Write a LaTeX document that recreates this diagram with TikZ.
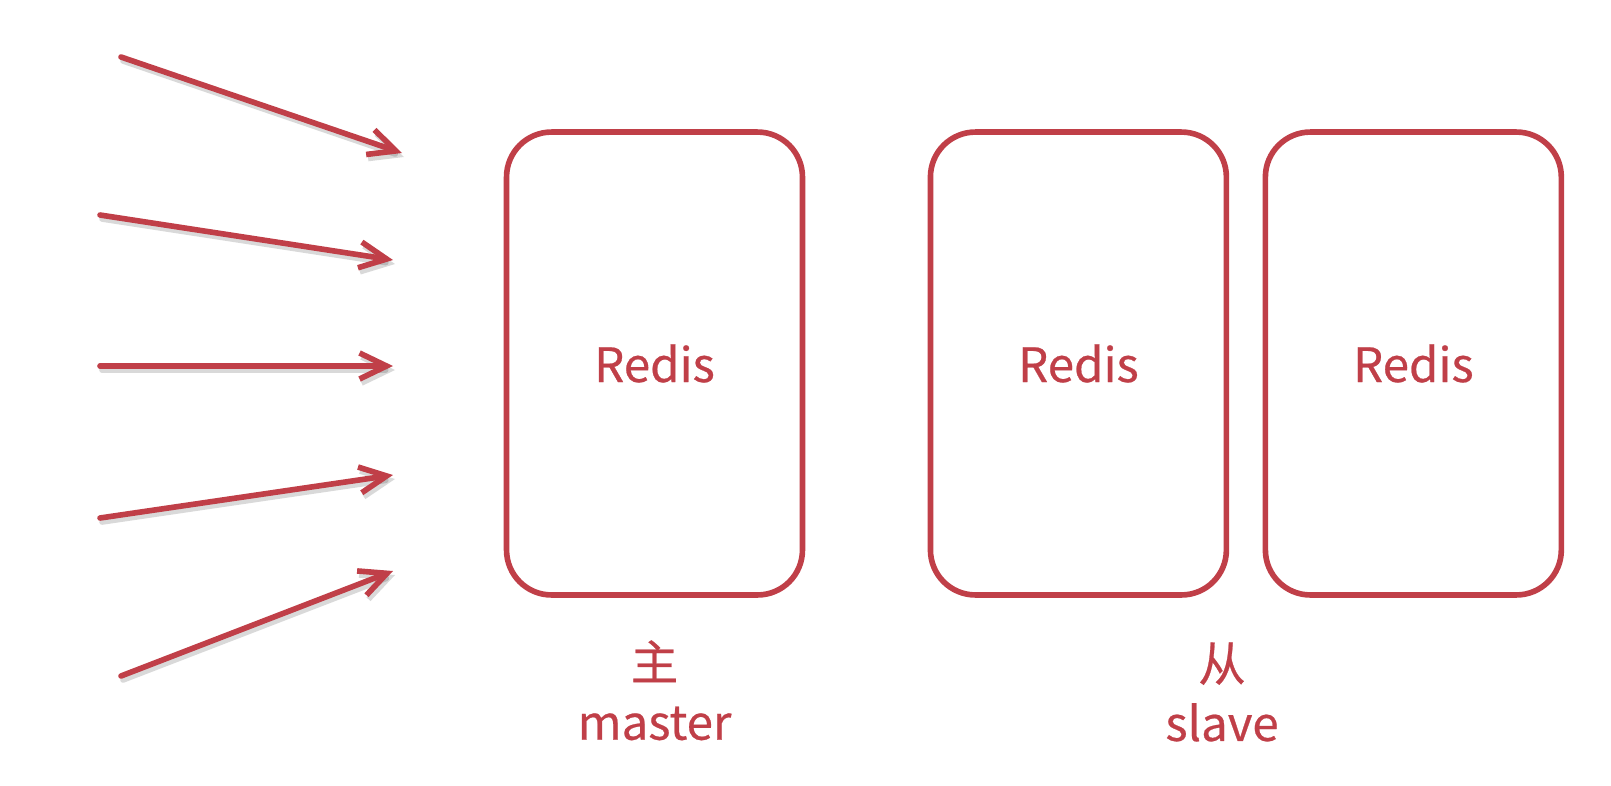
\documentclass[tikz,border=0pt]{standalone}
\usepackage{fontspec}
\newfontfamily\cjk[FakeBold=0.5]{Noto Sans CJK SC}
\usetikzlibrary{positioning,arrows.meta}
\definecolor{redisred}{RGB}{192,63,72}
\tikzset{
  inst/.style     = {rectangle, rounded corners=0.9cm, draw=redisred, line width=3.2pt,
                     fill=white, minimum width=5.92cm, minimum height=9.26cm,
                     inner sep=0pt, outer sep=0pt, text=redisred,
                     font=\cjk\fontsize{27pt}{31pt}\selectfont},
  role/.style     = {align=center, inner sep=0pt, text=redisred,
                     font=\cjk\fontsize{27pt}{34pt}\selectfont},
  req/.style      = {-{Straight Barb[length=5.4mm,width=5.2mm]}, line width=3.2pt,
                     redisred, line cap=round},
  reqshadow/.style= {req, draw=black, opacity=0.15},
}
\begin{document}
\begin{tikzpicture}[x=0.02cm, y=-0.02cm]
  \useasboundingbox (0,0) rectangle (1611,785);

  % master and slaves
  \node[inst] (master) at (654.5,363.5) {Redis};
  \node[inst, right=2.56cm of master] (slaveA) {Redis};
  \node[inst, right=0.78cm of slaveA] (slaveB) {Redis};

  \node[role, below=0.9cm of master] (masterlbl) {主\\master};
  \node[role, anchor=north] (slavelbl) at (1222,642) {从\\slave};

  % incoming requests
  \coordinate (s1) at (121,57);  \coordinate (e1) at (402,153);
  \coordinate (s2) at (100,215); \coordinate (e2) at (393,260);
  \coordinate (s3) at (100,366); \coordinate (e3) at (393,366);
  \coordinate (s4) at (100,518); \coordinate (e4) at (393,475);
  \coordinate (s5) at (121,676); \coordinate (e5) at (393,571);
  \foreach \i in {1,...,5}{
    \draw[reqshadow] ([shift={(2,4)}]s\i) -- ([shift={(2,4)}]e\i);
    \draw[req] (s\i) -- (e\i);
  }
\end{tikzpicture}
\end{document}
